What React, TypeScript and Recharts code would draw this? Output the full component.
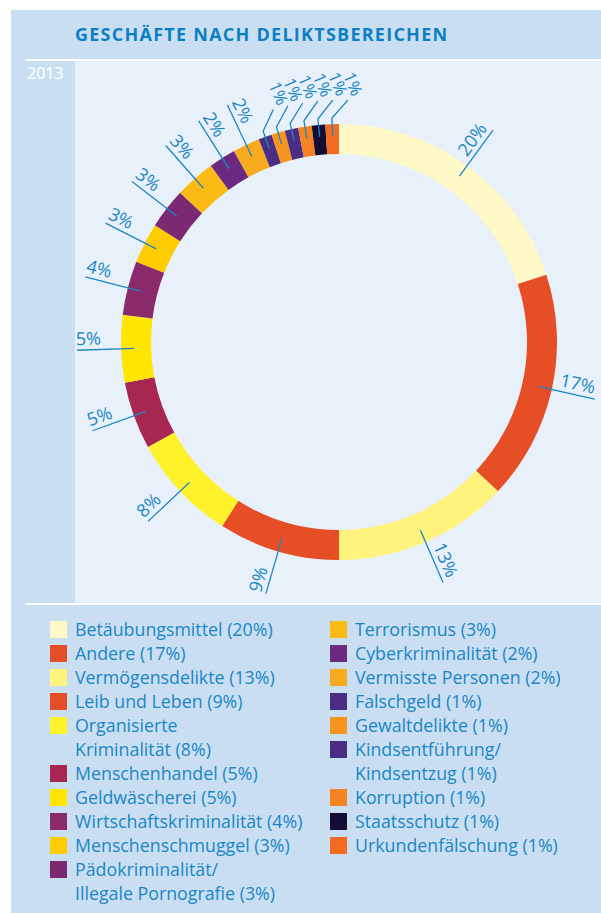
import { PieChart, Pie, Cell } from "recharts";

const TITLE = "GESCHÄFTE NACH DELIKTSBEREICHEN";
const YEAR = "2013";

const CATEGORIES = [
  "Betäubungsmittel",
  "Andere",
  "Vermögensdelikte",
  "Leib und Leben",
  "Organisierte\nKriminalität",
  "Menschenhandel",
  "Geldwäscherei",
  "Wirtschaftskriminalität",
  "Menschenschmuggel",
  "Pädokriminalität/\nIllegale Pornografie",
  "Terrorismus",
  "Cyberkriminalität",
  "Vermisste Personen",
  "Falschgeld",
  "Gewaltdelikte",
  "Kindsentführung/\nKindsentzug",
  "Korruption",
  "Staatsschutz",
  "Urkundenfälschung",
];

const SHARES = [20, 17, 13, 9, 8, 5, 5, 4, 3, 3, 3, 2, 2, 1, 1, 1, 1, 1, 1];

const COLORS = [
  "#fef9c6",
  "#e64e26",
  "#fff27d",
  "#e64e26",
  "#fff22a",
  "#a82652",
  "#ffe500",
  "#8b2a6b",
  "#ffcc00",
  "#7b2a71",
  "#fbbb14",
  "#6b2a7f",
  "#f9ab1f",
  "#4b2d83",
  "#f7941e",
  "#4b2d83",
  "#f58321",
  "#140d33",
  "#f26b22",
];

const LEFT_COUNT = 10;

const BLUE = "#1a86c8";
const FONT = "'Open Sans', sans-serif";
const RAD = Math.PI / 180;

const data = CATEGORIES.map((name, i) => ({ name, value: SHARES[i] }));

function renderLabel(props: any) {
  const { cx, cy, midAngle, value, index } = props;
  const theta = (((90 - midAngle) % 360) + 360) % 360;
  const sx = Math.sin(theta * RAD);
  const sy = -Math.cos(theta * RAD);
  const pt = (r: number) => [cx + r * sx, cy + r * sy];
  const text = `${value}%`;

  if (value <= 1) {
    // crowded 1% slices at the top: kinked leader
    const [x1, y1] = pt(206);
    const [x2, y2] = pt(224);
    const phi = (25 + (theta - 340) * 0.9) * RAD;
    const x3 = x2 + 24 * Math.sin(phi);
    const y3 = y2 - 24 * Math.cos(phi);
    return (
      <g key={`lbl-${index}`}>
        <polyline
          points={`${x1},${y1} ${x2},${y2} ${x3},${y3}`}
          fill="none"
          stroke={BLUE}
          strokeWidth={1.3}
        />
        <text
          transform={`translate(${x3},${y3}) rotate(67)`}
          x={-13}
          y={-5}
          textAnchor="middle"
          fill={BLUE}
          fontSize={17}
          fontFamily={FONT}
        >
          {text}
        </text>
      </g>
    );
  }

  const [x1, y1] = pt(205);
  const [x2, y2] = pt(262);
  const right = theta < 180;
  const rot = right ? theta - 90 : theta - 270;
  const [tx, ty] = right ? pt(260) : pt(263);
  return (
    <g key={`lbl-${index}`}>
      <line x1={x1} y1={y1} x2={x2} y2={y2} stroke={BLUE} strokeWidth={1.3} />
      <text
        transform={`translate(${tx},${ty}) rotate(${rot})`}
        y={-5}
        textAnchor={right ? "end" : "start"}
        fill={BLUE}
        fontSize={18}
        fontFamily={FONT}
      >
        {text}
      </text>
    </g>
  );
}

function LegendColumn({ start, end, left }: { start: number; end: number; left: number }) {
  const rows: any[] = [];
  for (let i = start; i < end; i++) {
    const lines = CATEGORIES[i].split("\n");
    lines.forEach((ln, j) => {
      const last = j === lines.length - 1;
      rows.push(
        <div key={`${i}-${j}`} style={{ height: 24, position: "relative" }}>
          {j === 0 && (
            <div
              style={{
                position: "absolute",
                left: 0,
                top: 1,
                width: 17,
                height: 17,
                background: COLORS[i],
              }}
            />
          )}
          <div
            style={{
              position: "absolute",
              left: 25,
              top: -3,
              whiteSpace: "nowrap",
              fontSize: 17.8,
              lineHeight: "24px",
              color: BLUE,
            }}
          >
            {last ? `${ln} (${SHARES[i]}%)` : ln}
          </div>
        </div>
      );
    });
  }
  return <div style={{ position: "absolute", left, top: 620 }}>{rows}</div>;
}

export default function App() {
  return (
    <div
      style={{
        position: "absolute",
        left: 0,
        top: 0,
        width: 601,
        height: 913,
        background: "#ffffff",
        fontFamily: FONT,
        overflow: "hidden",
      }}
    >
      <div
        style={{
          position: "absolute",
          left: 11,
          top: 10,
          width: 590,
          height: 903,
          background: "#c9dff1",
        }}
      />
      <div
        style={{
          position: "absolute",
          left: 75,
          top: 22,
          fontSize: 18,
          lineHeight: "24px",
          fontWeight: 700,
          color: "#0b7fc6",
          whiteSpace: "nowrap",
          letterSpacing: 1.25,
        }}
      >
        {TITLE}
      </div>
      <div style={{ position: "absolute", left: 26, top: 58.5, width: 575, height: 2, background: "#ffffff" }} />
      <div
        style={{
          position: "absolute",
          left: 27,
          top: 62,
          fontSize: 16,
          color: "#ffffff",
        }}
      >
        {YEAR}
      </div>
      <div
        style={{
          position: "absolute",
          left: 75,
          top: 61,
          width: 526,
          height: 542,
          background: "#e8f1f9",
        }}
      >
        <PieChart width={526} height={542} margin={{ top: 0, right: 0, bottom: 0, left: 0 }}>
          <Pie
            data={data}
            dataKey="value"
            nameKey="name"
            cx={264}
            cy={281}
            innerRadius={188}
            outerRadius={218}
            startAngle={90}
            endAngle={-270}
            stroke="none"
            label={renderLabel}
            labelLine={false}
            isAnimationActive={false}
          >
            {data.map((_, i) => (
              <Cell key={`cell-${i}`} fill={COLORS[i]} />
            ))}
          </Pie>
        </PieChart>
      </div>
      <div style={{ position: "absolute", left: 26, top: 603, width: 575, height: 2, background: "#ffffff" }} />
      <LegendColumn start={0} end={LEFT_COUNT} left={50} />
      <LegendColumn start={LEFT_COUNT} end={CATEGORIES.length} left={330} />
    </div>
  );
}
